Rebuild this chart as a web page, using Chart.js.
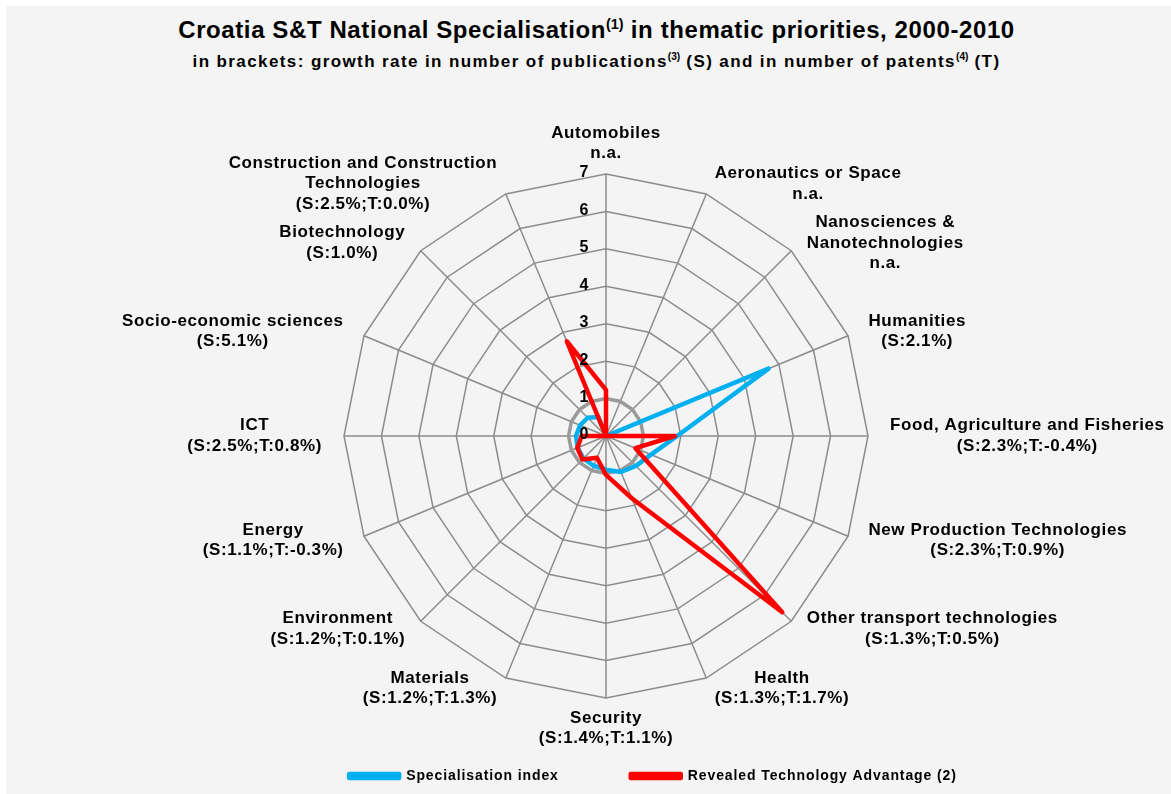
<!DOCTYPE html>
<html>
<head>
<meta charset="utf-8">
<script src="https://cdn.jsdelivr.net/npm/chart.js@4.4.0/dist/chart.umd.min.js"></script>
<style>
  html, body { margin: 0; padding: 0; background: #fff; }
  #panel {
    position: absolute; left: 6px; top: 6px; width: 1165px; height: 788px;
    background: #f4f4f4; font-family: "Liberation Sans", Arial, sans-serif;
  }
  #title {
    position: absolute; left: 8px; width: 1165px; top: 10px; text-align: center;
    font-weight: bold; font-size: 24px; letter-spacing: 0.6px; color: #000;
  }
  #subtitle {
    position: absolute; left: 8px; width: 1165px; top: 45px; text-align: center;
    font-weight: bold; font-size: 17px; letter-spacing: 1.4px; color: #000;
  }
  sup { font-size: 60%; letter-spacing: 0; }
  #radar { position: absolute; left: 0; top: 0; }
</style>
</head>
<body>
<div id="panel">
  <div id="title">Croatia S&amp;T National Specialisation<sup>(1)</sup> in thematic priorities, 2000-2010</div>
  <div id="subtitle">in brackets: growth rate in number of publications<sup>(3)</sup> (S) and in number of patents<sup>(4)</sup> (T)</div>
  <canvas id="radar" width="1165" height="788"></canvas>
</div>
<script>
  "use strict";

  // thematic priorities, clockwise from the top
  var categories = [
    ["Automobiles", "n.a."],
    ["Aeronautics or Space", "n.a."],
    ["Nanosciences &", "Nanotechnologies", "n.a."],
    ["Humanities", "(S:2.1%)"],
    ["Food, Agriculture and Fisheries", "(S:2.3%;T:-0.4%)"],
    ["New Production Technologies", "(S:2.3%;T:0.9%)"],
    ["Other transport technologies", "(S:1.3%;T:0.5%)"],
    ["Health", "(S:1.3%;T:1.7%)"],
    ["Security", "(S:1.4%;T:1.1%)"],
    ["Materials", "(S:1.2%;T:1.3%)"],
    ["Environment", "(S:1.2%;T:0.1%)"],
    ["Energy", "(S:1.1%;T:-0.3%)"],
    ["ICT", "(S:2.5%;T:0.8%)"],
    ["Socio-economic sciences", "(S:5.1%)"],
    ["Biotechnology", "(S:1.0%)"],
    ["Construction and Construction", "Technologies", "(S:2.5%;T:0.0%)"]
  ];

  var specialisation = [0, 0, 0, 4.7, 1.9, 1.3, 1.13, 1.04, 0.9, 0.86, 0.85, 0.82, 0.8, 0.75, 0.69, 0.55];
  var rta = [1.23, 0, 0, 0, 1.84, 0.85, 6.66, 1.8, 1.04, 0.63, 0.89, 0.83, 0.65, 0, 0, 2.74];
  var reference = categories.map(function () { return 1; });
  var tickValues = [0, 1, 2, 3, 4, 5, 6, 7];

  // where the web and the legend sit on the canvas
  var CENTER_X = 600, CENTER_Y = 430, RADIUS = 262, LEGEND_Y = 770;
  var FONT = "'Liberation Sans', Arial, sans-serif";

  // tick labels sit left of the vertical axis, like the original
  var tickLabels = {
    id: "tickLabels",
    afterDatasetsDraw: function (chart) {
      var r = chart.scales.r;
      var ctx = chart.ctx;
      ctx.save();
      ctx.letterSpacing = "0px";
      ctx.font = "bold 16px " + FONT;
      ctx.fillStyle = "#000";
      ctx.textAlign = "center";
      ctx.textBaseline = "middle";
      tickValues.forEach(function (v) {
        var d = r.getDistanceFromCenterForValue(v);
        ctx.fillText(String(v), r.xCenter - 22, r.yCenter - d - 1);
      });
      ctx.restore();
    }
  };

  // category labels, placed the way Excel does it (lines centred in a block)
  var categoryLabels = {
    id: "categoryLabels",
    afterDraw: function (chart) {
      var r = chart.scales.r;
      var ctx = chart.ctx;
      var lineH = 20.5;
      ctx.save();
      ctx.font = "bold 17px " + FONT;
      ctx.letterSpacing = "0.6px";
      ctx.fillStyle = "#000";
      ctx.textAlign = "center";
      ctx.textBaseline = "middle";
      categories.forEach(function (lines, i) {
        var p = r.getPointPosition(i, r.drawingArea);
        var th = p.angle + Math.PI / 2;
        var s = Math.sin(th), c = Math.cos(th);
        var w = Math.max.apply(null, lines.map(function (t) { return ctx.measureText(t).width; }));
        var h = lines.length * lineH;
        var cx, cy;
        if (Math.abs(s) < 0.01) {
          cx = p.x;
          cy = c > 0 ? p.y - 10 - h / 2 : p.y + 10 + h / 2;
        } else {
          cx = s > 0 ? p.x + 22 * s + w / 2 : p.x + 22 * s - w / 2;
          cy = p.y - 11 * c;
        }
        lines.forEach(function (t, k) {
          ctx.fillText(t, cx, cy + (k - (lines.length - 1) / 2) * lineH);
        });
      });
      ctx.restore();
    }
  };

  // slightly spaced legend text, and the legend moved down to the bottom edge
  var legendPlace = {
    id: "legendPlace",
    beforeLayout: function (chart) { chart.ctx.letterSpacing = "0.9px"; },
    afterLayout: function (chart) {
      var lg = chart.legend;
      var dy = LEGEND_Y - (lg.top + lg.options.labels.padding + 7);
      lg.top += dy;
      lg.bottom += dy;
    },
    beforeDraw: function (chart) { chart.ctx.letterSpacing = "0.9px"; }
  };

  var ctx = document.getElementById("radar").getContext("2d");
  var chart = new Chart(ctx, {
    type: "radar",
    data: {
      labels: categories,
      datasets: [{
        label: "Specialisation index",
        data: specialisation,
        borderColor: "#00b0f0",
        backgroundColor: "#00b0f0",
        borderWidth: 4.5,
        borderJoinStyle: "round",
        fill: false,
        pointRadius: 0,
        order: 1
      }, {
        label: "Revealed Technology Advantage (2)",
        data: rta,
        borderColor: "#ff0000",
        backgroundColor: "#ff0000",
        borderWidth: 4.5,
        borderJoinStyle: "round",
        fill: false,
        pointRadius: 0,
        order: 0
      }, {
        label: "ref",
        data: reference,
        borderColor: "#9a9a9a",
        backgroundColor: "#9a9a9a",
        borderWidth: 3.5,
        fill: false,
        pointRadius: 0,
        order: 2
      }]
    },
    options: {
      responsive: false,
      animation: false,
      devicePixelRatio: 1,
      layout: { padding: { top: 100, bottom: 0, left: 129, right: 0 } },
      scales: {
        r: {
          min: 0,
          max: 7,
          ticks: { stepSize: 1, display: false },
          grid: { color: "#8c8c8c", lineWidth: 1.5 },
          angleLines: { color: "#8c8c8c", lineWidth: 1.5 },
          pointLabels: { display: false },
          afterFit: function (scale) {
            scale.xCenter = CENTER_X;
            scale.yCenter = CENTER_Y;
            scale.drawingArea = RADIUS;
          }
        }
      },
      plugins: {
        tooltip: { enabled: false },
        legend: {
          position: "bottom",
          labels: {
            boxWidth: 50,
            boxHeight: 4,
            padding: 72,
            color: "#000",
            font: { family: FONT, size: 14, weight: "bold" },
            filter: function (item) { return item.text !== "ref"; },
            sort: function (a, b) { return a.datasetIndex - b.datasetIndex; }
          }
        }
      }
    },
    plugins: [legendPlace, tickLabels, categoryLabels]
  });
</script>
</body>
</html>
